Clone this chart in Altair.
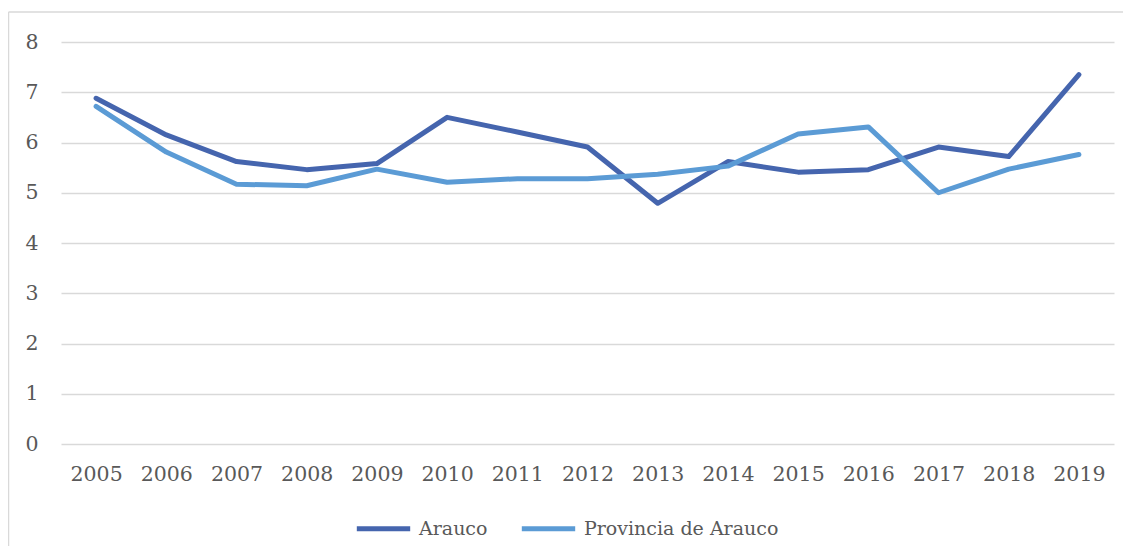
import altair as alt
import pandas as pd

years = [str(y) for y in range(2005, 2020)]
arauco = [6.88, 6.15, 5.62, 5.46, 5.58, 6.50, 6.21, 5.91, 4.79, 5.62, 5.41, 5.46, 5.91, 5.72, 7.35]
provincia = [6.72, 5.81, 5.17, 5.14, 5.47, 5.21, 5.28, 5.28, 5.37, 5.53, 6.17, 6.31, 5.00, 5.47, 5.76]
series_names = ["Arauco", "Provincia de Arauco"]
colors = ["#4565AE", "#5B9BD5"]

rows = []
for i, y in enumerate(years):
    rows.append({"year": y, "serie": series_names[0], "valor": arauco[i], "ord": 0})
    rows.append({"year": y, "serie": series_names[1], "valor": provincia[i], "ord": 1})
df = pd.DataFrame(rows)

FONT = "DejaVu Serif"
TXT = "#595959"

W, H = 1053, 402

lines = alt.Chart(df).mark_line(strokeWidth=5, strokeCap="round", strokeJoin="round").encode(
    x=alt.X("year:N", sort=years, title=None,
            scale=alt.Scale(paddingInner=0, paddingOuter=0.5),
            axis=alt.Axis(labelAngle=0, ticks=False, domain=False, labelPadding=20,
                          labelFontSize=20.5, labelColor=TXT, labelFont=FONT, grid=False)),
    y=alt.Y("valor:Q", title=None,
            scale=alt.Scale(domain=[0, 8], nice=False),
            axis=alt.Axis(values=list(range(0, 9)), ticks=False, domain=False, tickSize=0,
                          labelPadding=23, labelFontSize=20.5, labelColor=TXT, labelFont=FONT,
                          grid=True, gridColor="#D9D9D9", gridWidth=1.6)),
    color=alt.Color("serie:N", sort=series_names,
                    scale=alt.Scale(domain=series_names, range=colors),
                    legend=alt.Legend(title=None, orient="none", direction="horizontal",
                                      legendX=293, legendY=55 + H,
                                      symbolType="stroke", symbolSize=2850,
                                      symbolStrokeWidth=5, labelOffset=6,
                                      columnPadding=23, labelFontSize=19,
                                      labelLimit=400,
                                      labelColor=TXT, labelFont=FONT)),
    order="ord:Q",
)

border = alt.Chart(pd.DataFrame({"a": [0]})).mark_rule(color="#D9D9D9", strokeWidth=1.5, clip=False).encode(
    x=alt.value(-52.5), x2=alt.value(-52.5), y=alt.value(-30), y2=alt.value(H + 120)
)
border_top = alt.Chart(pd.DataFrame({"a": [0]})).mark_rule(color="#D9D9D9", strokeWidth=1.5, clip=False).encode(
    x=alt.value(-52.5), x2=alt.value(W + 30), y=alt.value(-30), y2=alt.value(-30)
)

chart = alt.layer(border, border_top, lines).properties(
    width=W, height=H,
    autosize=alt.AutoSizeParams(type="none"),
    padding={"left": 53, "top": 34, "right": 9, "bottom": 102},
).configure(background="white", view=alt.ViewConfig(stroke=None))

chart.save("out.html", embed_options={"renderer": "svg", "actions": False})
